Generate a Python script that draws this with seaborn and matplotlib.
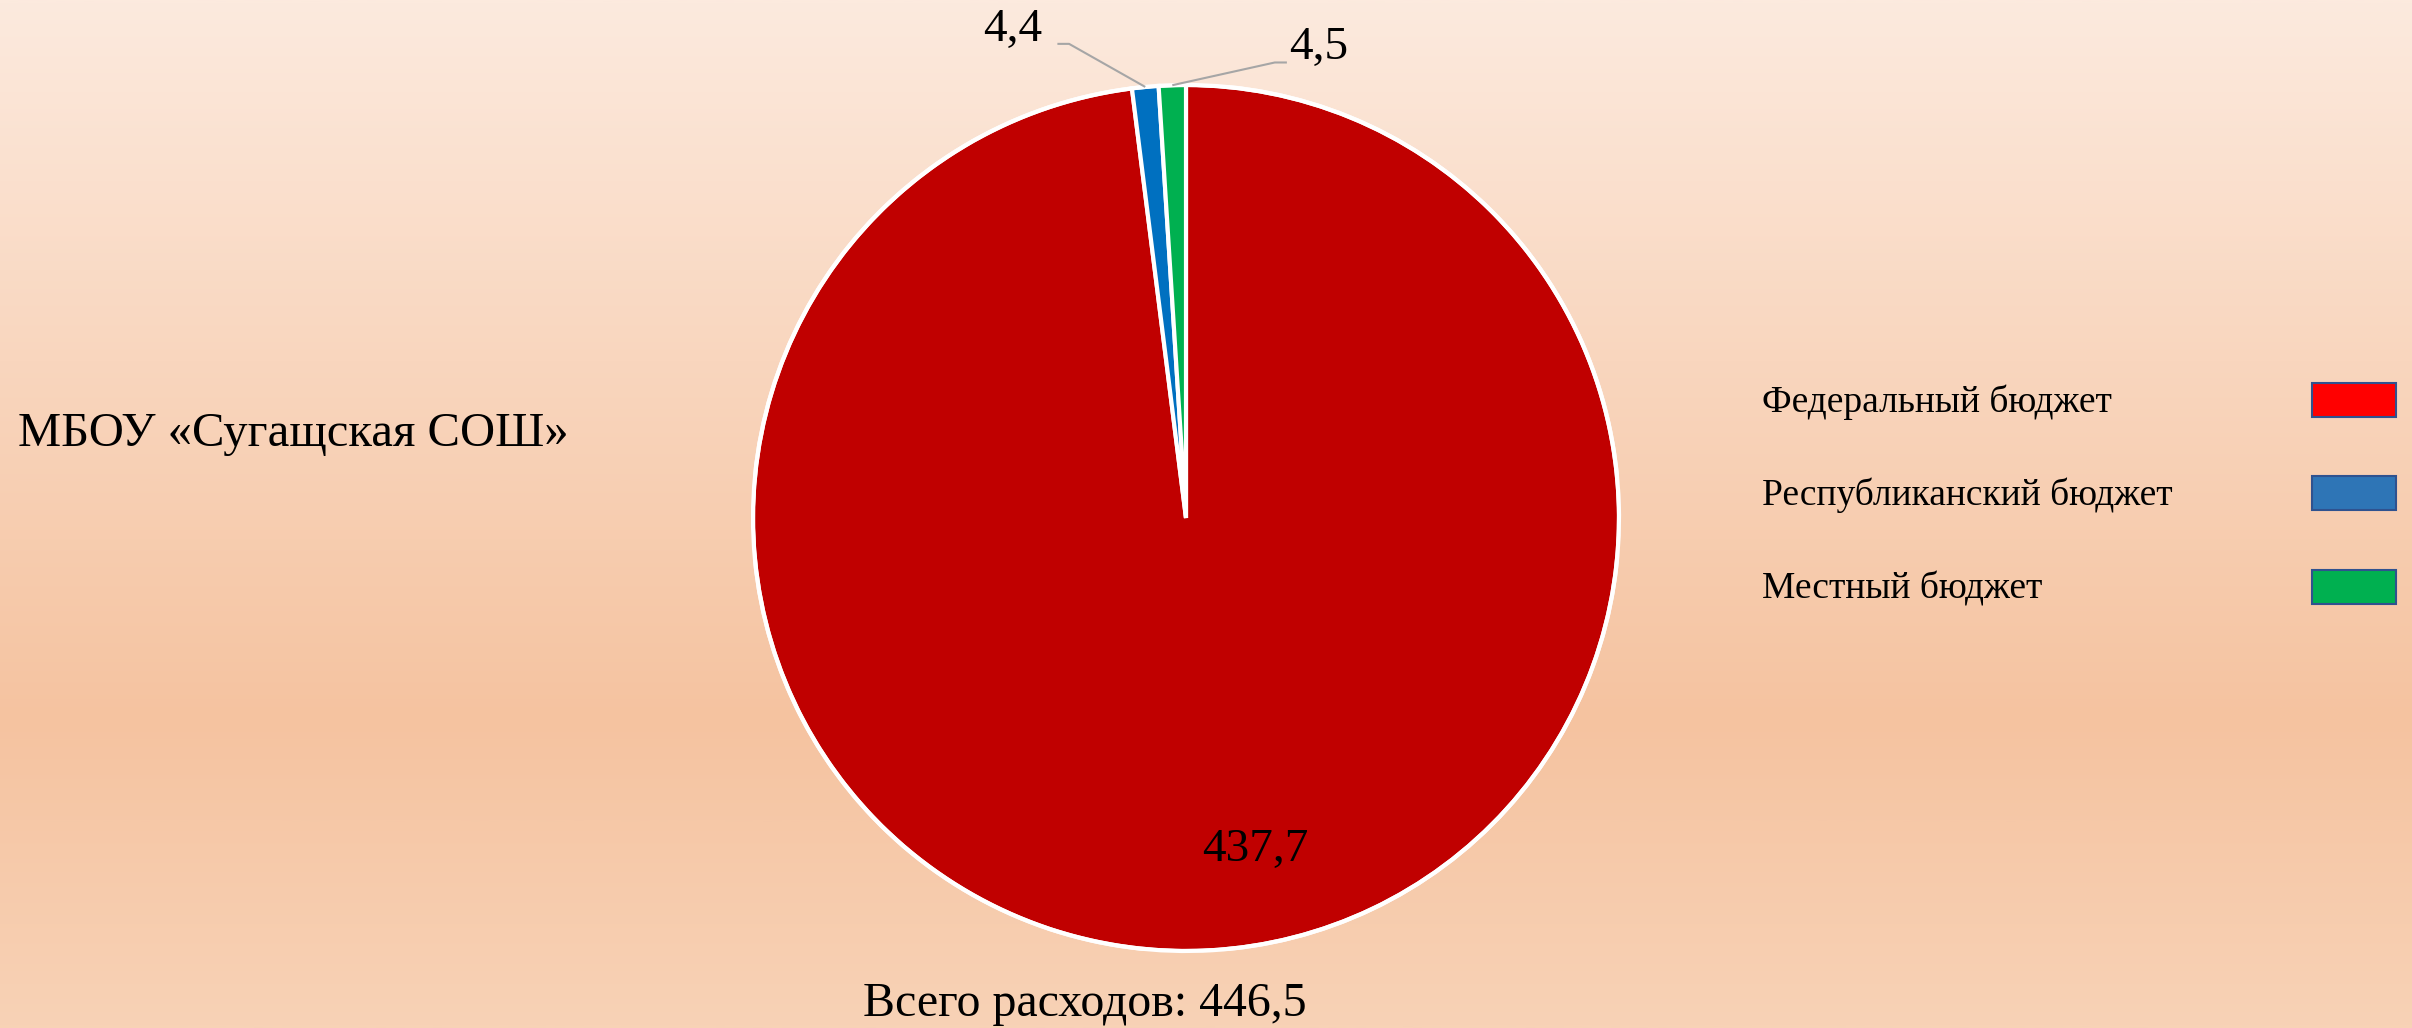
import numpy as np
import matplotlib
matplotlib.use("Agg")
import matplotlib.pyplot as plt
from matplotlib.colors import LinearSegmentedColormap
from matplotlib.patches import Rectangle
import seaborn as sns

# ---- data ----
categories = ["Федеральный бюджет", "Республиканский бюджет", "Местный бюджет"]
values = [437.7, 4.4, 4.5]
value_labels = ["437,7", "4,4", "4,5"]
slice_colors = ["#C00000", "#0070C0", "#00B050"]
legend_colors = ["#FF0000", "#2E75B6", "#00B050"]
title_text = "МБОУ «Сугащская СОШ»"
total_text = "Всего расходов: 446,5"

sns.set_theme(style="white")
plt.rcParams["font.family"] = ["Liberation Serif", "DejaVu Serif"]

W, H = 2412, 1028
fig = plt.figure(figsize=(W / 100, H / 100), dpi=100)

# ---- gradient background ----
bg = fig.add_axes([0, 0, 1, 1])
bg.set_axis_off()
cmap = LinearSegmentedColormap.from_list(
    "bg",
    [(0.0, (252/255, 234/255, 222/255)),
     (0.35, (249/255, 214/255, 190/255)),
     (0.70, (245/255, 195/255, 160/255)),
     (1.0, (248/255, 210/255, 182/255))])
grad = np.linspace(0, 1, 512).reshape(-1, 1)
bg.imshow(grad, aspect="auto", cmap=cmap, extent=[0, 1, 0, 1], origin="upper")
bg.set_xlim(0, 1)
bg.set_ylim(0, 1)

# ---- pie ----
cx, cy, r = 1186, 518, 433
ax = fig.add_axes([(cx - r) / W, (H - cy - r) / H, 2 * r / W, 2 * r / H])
palette = sns.color_palette(slice_colors)
wedges, _ = ax.pie(values, colors=palette, startangle=90, counterclock=False,
                   wedgeprops=dict(edgecolor="white", linewidth=3))
ax.set_xlim(-1, 1)
ax.set_ylim(-1, 1)
ax.set_aspect("equal")
ax.set_axis_off()

# outer white ring
circle = plt.Circle((0, 0), 1.0, fill=False, edgecolor="white", linewidth=3)
ax.add_patch(circle)

# big label inside
ax.text(0.160, -0.767, value_labels[0], fontsize=34, ha="center",
        va="center", color="black")

# small labels with leader lines
label_pos = {1: (-0.40, 1.127), 2: (0.307, 1.085)}
elbow = {1: [(-0.297, 1.095), (-0.27, 1.095)], 2: [(0.233, 1.052), (0.205, 1.052)]}
for i in (1, 2):
    w = wedges[i]
    mid = np.deg2rad((w.theta1 + w.theta2) / 2)
    ax_, ay_ = np.cos(mid), np.sin(mid)
    (e1x, e1y), (e2x, e2y) = elbow[i]
    ax.plot([e1x, e2x, ax_], [e1y, e2y, ay_], color="#A6A6A6", lw=1.5,
            clip_on=False, solid_capstyle="butt")
    tx, ty = label_pos[i]
    ax.text(tx, ty, value_labels[i], fontsize=34, ha="center", va="center",
            color="black", clip_on=False)

# ---- texts ----
fig.text(18 / W, 1 - 434 / H, title_text, fontsize=35, ha="left", va="center",
         color="black")
fig.text(1085 / W, 1 - 1004 / H, total_text, fontsize=34.5, ha="center",
         va="center", color="black")

# ---- legend (text left, box right) ----
row_y = [400, 493, 587]
for name, col, yy in zip(categories, legend_colors, row_y):
    fig.text(1762 / W, 1 - (yy + 2) / H, name, fontsize=27, ha="left",
             va="center", color="black")
    fig.patches.append(Rectangle((2312 / W, 1 - (yy + 17) / H), 84 / W, 34 / H,
                                 facecolor=col, edgecolor="#2F528F",
                                 linewidth=1.5, transform=fig.transFigure,
                                 figure=fig))

fig.savefig("out.png", dpi=100)
